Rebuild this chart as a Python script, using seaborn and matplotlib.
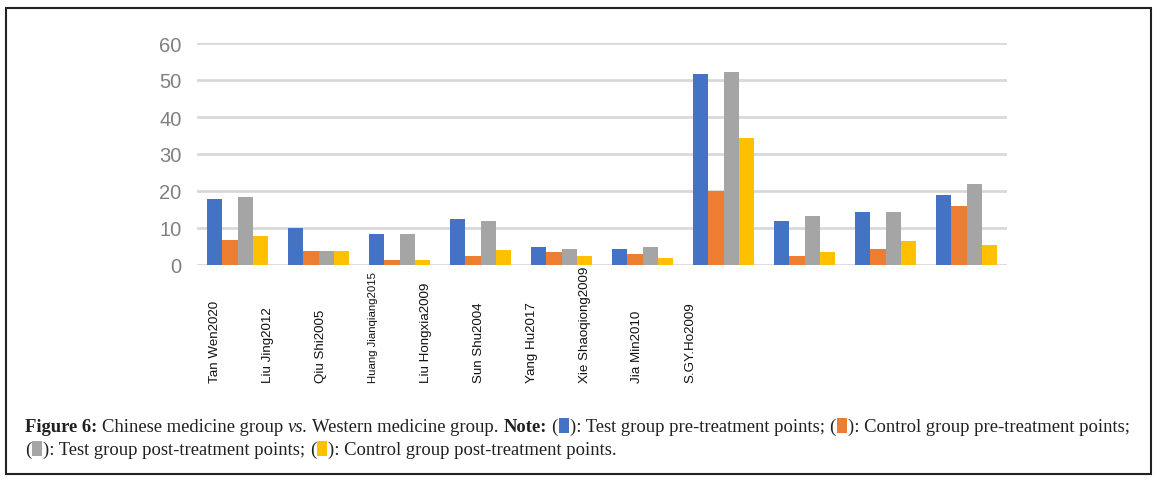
"""Grouped bar chart: Chinese medicine group vs. Western medicine group (Figure 6)."""

import matplotlib

matplotlib.use("Agg")

import matplotlib.pyplot as plt
import numpy as np
import pandas as pd
import seaborn as sns
from matplotlib.patches import Rectangle

studies = [
    "Tan Wen2020", "Liu Jing2012", "Qiu Shi2005", "Huang Jianqiang2015",
    "Liu Hongxia2009", "Sun Shu2004", "Yang Hu2017", "Xie Shaoqiong2009",
    "Jia Min2010", "S.GY.Ho2009",
]
groups = [
    "Test group pre-treatment points",
    "Control group pre-treatment points",
    "Test group post-treatment points",
    "Control group post-treatment points",
]
test_pre = [17.8, 9.9, 8.4, 12.4, 4.9, 4.4, 51.6, 11.9, 14.4, 18.9]
control_pre = [6.8, 3.9, 1.4, 2.3, 3.4, 2.9, 20.1, 2.3, 4.3, 15.9]
test_post = [18.3, 3.9, 8.4, 11.9, 4.3, 4.8, 52.1, 13.2, 14.4, 21.9]
control_post = [7.9, 3.9, 1.4, 4.1, 2.5, 1.8, 34.2, 3.4, 6.5, 5.4]
colors = ["#4472C4", "#ED7D31", "#A5A5A5", "#FFC000"]
y_ticks = [0, 10, 20, 30, 40, 50, 60]

W, H = 1158, 481

df = pd.DataFrame({
    "study": studies * 4,
    "group": np.repeat(groups, len(studies)),
    "score": test_pre + control_pre + test_post + control_post,
})

sns.set_style("white")
plt.rcParams["font.family"] = ["Liberation Sans", "DejaVu Sans"]

fig = plt.figure(figsize=(W / 100, H / 100), dpi=100)
ax = fig.add_axes([197 / W, 215 / H, 810 / W, 222 / H])

sns.barplot(
    data=df, x="study", y="score", hue="group", palette=colors,
    width=0.75, saturation=1, linewidth=0, legend=False, ax=ax,
)

ax.set_xlim(-0.5, len(studies) - 0.5)
ax.set_ylim(0, 60)
ax.set_yticks(y_ticks)
ax.yaxis.grid(True, color="#d9d9d9", linewidth=2)
ax.set_axisbelow(True)
for side in ["left", "right", "top", "bottom"]:
    ax.spines[side].set_visible(False)
ax.set_xlabel("")
ax.set_ylabel("")
ax.tick_params(axis="y", length=0, pad=11, labelsize=14.5, labelcolor="#808080")

# study names sit on a tighter spacing than the bar groups in the original
label_pos = np.arange(len(studies)) * 0.652 - 0.278
ax.set_xticks(label_pos, labels=studies)
ax.tick_params(axis="x", length=0, pad=84)
for lbl in ax.get_xticklabels():
    lbl.set_rotation(90)
    lbl.set_va("bottom")
    lbl.set_ha("center")
    lbl.set_fontsize(8.2 if lbl.get_text().startswith("Huang") else 9.6)
    lbl.set_color("#111111")

# outer frame
fig.patches.append(Rectangle((6 / W, 6 / H), 1145 / W, 466 / H, transform=fig.transFigure,
                             fill=False, edgecolor="#222222", linewidth=1.5))

# caption with inline colour keys
renderer = fig.canvas.get_renderer()
cap_font = dict(family=["Liberation Serif", "DejaVu Serif"], fontsize=13.4, color="#231f20")


def _width(s, **kw):
    t = fig.text(0, 0, s, **cap_font, **kw)
    w = t.get_window_extent(renderer).width
    t.remove()
    return w


space = _width("x x") - _width("xx")


def _line(items, x, y):
    for kind, val, style in items:
        if kind == "sp":
            x += space
        elif kind == "key":
            fig.patches.append(Rectangle(((x + 1) / W, (y - 2) / H), 10 / W, 15 / H,
                                         transform=fig.transFigure, facecolor=val, edgecolor="none"))
            x += 12
        else:
            t = fig.text(x / W, y / H, val, va="baseline", ha="left", **cap_font, **style)
            x = t.get_window_extent(renderer).x1
    return x


B = dict(fontweight="bold")
I = dict(fontstyle="italic")
N = {}
line1 = [
    ("t", "Figure 6:", B), ("sp", None, None), ("t", "Chinese medicine group", N), ("sp", None, None),
    ("t", "vs.", I), ("sp", None, None), ("t", "Western medicine group.", N), ("sp", None, None),
    ("t", "Note:", B), ("sp", None, None), ("t", "(", N), ("key", colors[0], None),
    ("t", "): " + groups[0] + ";", N), ("sp", None, None), ("t", "(", N), ("key", colors[1], None),
    ("t", "): " + groups[1] + ";", N),
]
line2 = [
    ("t", "(", N), ("key", colors[2], None), ("t", "): " + groups[2] + ";", N), ("sp", None, None),
    ("t", "(", N), ("key", colors[3], None), ("t", "): " + groups[3] + ".", N),
]
_line(line1, 25, H - 432)
_line(line2, 25, H - 455)

fig.savefig("out.png", dpi=100)
